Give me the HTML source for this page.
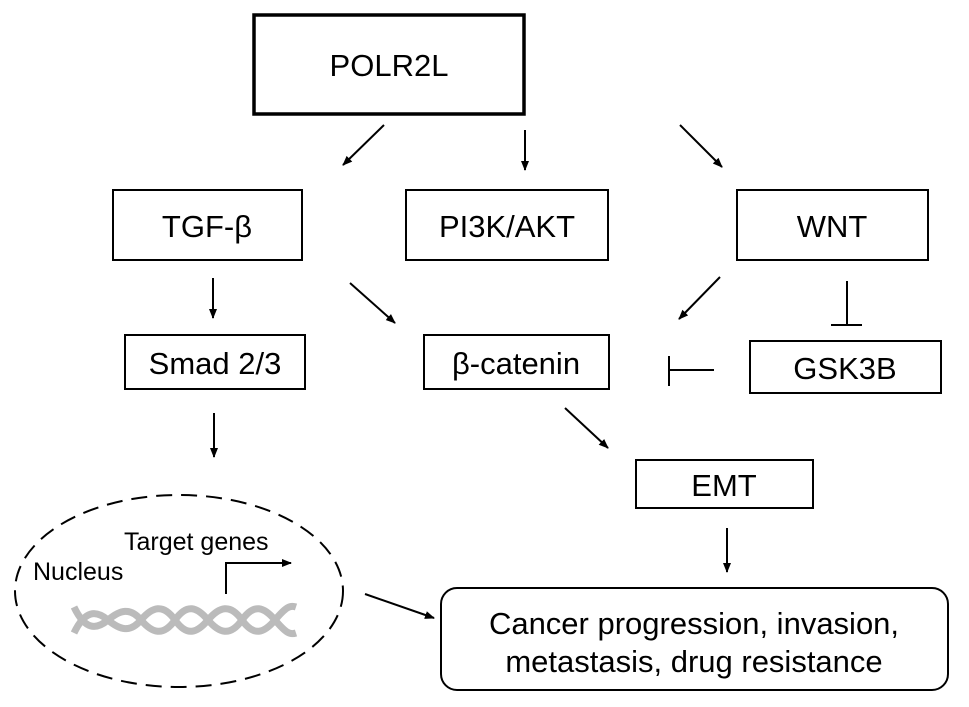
<!DOCTYPE html>
<html><head><style>
body{margin:0;background:#fff}
svg{display:block}
text{font-family:"Liberation Sans",sans-serif;fill:#000}
</style></head><body>
<svg width="969" height="707" viewBox="0 0 969 707">
<defs><marker id="a" markerWidth="10" markerHeight="10" refX="9" refY="5" orient="auto" markerUnits="userSpaceOnUse"><path d="M0,1 L10,5 L0,9 Z" fill="#000"/></marker></defs>
<g fill="none" stroke="#000" stroke-width="2">
<rect x="254" y="15" width="270" height="99" stroke-width="3.5"/>
<rect x="113" y="190" width="189" height="70"/>
<rect x="406" y="190" width="202" height="70"/>
<rect x="737" y="190" width="191" height="70"/>
<rect x="125" y="335" width="180" height="54"/>
<rect x="424" y="335" width="185" height="54"/>
<rect x="750" y="341" width="191" height="52"/>
<rect x="636" y="460" width="177" height="48"/>
<rect x="441" y="588" width="507" height="102" rx="16"/>
<ellipse cx="179" cy="591" rx="164" ry="96" stroke-dasharray="16,9"/>
<g marker-end="url(#a)">
<line x1="384" y1="125" x2="343" y2="165"/>
<line x1="525" y1="130" x2="525" y2="170"/>
<line x1="680" y1="125" x2="722" y2="167"/>
<line x1="213" y1="278" x2="213" y2="318"/>
<line x1="350" y1="283" x2="395" y2="323"/>
<line x1="720" y1="277" x2="679" y2="319"/>
<line x1="565" y1="408" x2="608" y2="448"/>
<line x1="214" y1="413" x2="214" y2="457"/>
<line x1="727" y1="528" x2="727" y2="572"/>
<line x1="365" y1="594" x2="434" y2="618"/>
<polyline points="226,594 226,563 291,563"/>
</g>
<line x1="847" y1="281" x2="847" y2="325"/>
<line x1="831" y1="325" x2="862" y2="325"/>
<line x1="669" y1="356" x2="669" y2="386"/>
<line x1="669" y1="370" x2="714" y2="370"/>
</g>
<g fill="none" stroke="#bbb" stroke-width="7">
<path d="M74,633 C85,610 96,610 108,620 S130,633 141,620 S163,603 175,620 S197,633 208,620 S230,603 242,620 S264,633 275,620 S290,605 296,607"/>
<path d="M74,607 C85,630 96,630 108,620 S130,607 141,620 S163,637 175,620 S197,607 208,620 S230,637 242,620 S264,607 275,620 S290,635 296,633"/>
</g>
<g font-size="31" text-anchor="middle">
<text x="389" y="76">POLR2L</text>
<text x="207" y="237">TGF-β</text>
<text x="507" y="237">PI3K/AKT</text>
<text x="832" y="237">WNT</text>
<text x="215" y="374">Smad 2/3</text>
<text x="516" y="374">β-catenin</text>
<text x="845" y="379">GSK3B</text>
<text x="724" y="496">EMT</text>
<text x="694" y="634">Cancer progression, invasion,</text>
<text x="694" y="672">metastasis, drug resistance</text>
</g>
<g font-size="25">
<text x="124" y="550">Target genes</text>
<text x="33" y="580">Nucleus</text>
</g>
</svg>
</body></html>
